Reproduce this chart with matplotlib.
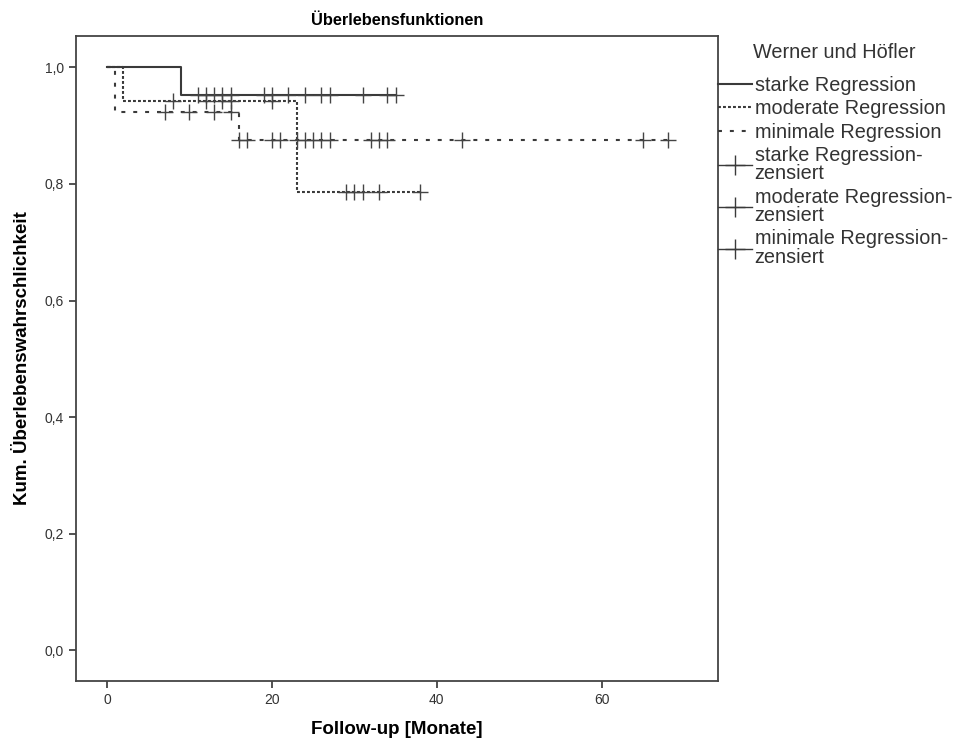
import matplotlib
matplotlib.use("Agg")
import matplotlib.pyplot as plt
from matplotlib.lines import Line2D
from matplotlib.ticker import FuncFormatter
import numpy as np

plt.rcParams["font.family"] = ["Liberation Sans", "DejaVu Sans"]

# Kaplan-Meier step data per group (event times, survival after each step, end of follow-up)
starke_t = [0, 9]
starke_s = [1.0, 0.952]
starke_end = 35
starke_cens = [11, 12, 13, 14, 15, 19, 20, 22, 24, 26, 27, 31, 34, 35]

moderate_t = [0, 2, 23]
moderate_s = [1.0, 0.943, 0.786]
moderate_end = 38
moderate_cens = [8, 12, 14, 15, 20, 29, 30, 31, 33, 38]

minimal_t = [0, 1, 16]
minimal_s = [1.0, 0.923, 0.875]
minimal_end = 68
minimal_cens = [7, 10, 13, 15, 16, 17, 20, 21, 23, 24, 25, 26, 27, 32, 33, 34, 43, 65, 68]

labels = ["starke Regression", "moderate Regression", "minimale Regression"]
cens_labels = ["starke Regression-\nzensiert", "moderate Regression-\nzensiert",
               "minimale Regression-\nzensiert"]

col = "#3a3a3a"
styles = [
    dict(linestyle="-"),
    dict(linestyle=(0, (1.4, 1.0))),
    dict(linestyle=(0, (1.9, 3.8))),
]


def surv_at(t, times, surv):
    idx = np.searchsorted(times, t, side="right") - 1
    return np.array(surv)[idx]


fig = plt.figure(figsize=(9.55, 7.42), dpi=100)
ax = fig.add_axes([76 / 955, 1 - 681 / 742, (718 - 76) / 955, (681 - 36) / 742])

groups = [
    (starke_t, starke_s, starke_end, starke_cens),
    (moderate_t, moderate_s, moderate_end, moderate_cens),
    (minimal_t, minimal_s, minimal_end, minimal_cens),
]

for (t, s, end, cens), st in zip(groups, styles):
    xs = list(t) + [end]
    ys = list(s) + [s[-1]]
    ax.step(xs, ys, where="post", color=col, lw=1.5, **st)
    cy = surv_at(cens, t, s)
    ax.plot(cens, cy, linestyle="none", marker="+", markersize=11,
            markeredgewidth=1.0, color="#444444")

ax.set_xlim(-3.75, 74.1)
ax.set_ylim(-0.053, 1.054)
ax.set_xticks([0, 20, 40, 60])
ax.set_yticks([0, 0.2, 0.4, 0.6, 0.8, 1.0])
ax.yaxis.set_major_formatter(FuncFormatter(lambda v, p: f"{v:.1f}".replace(".", ",")))
ax.tick_params(direction="out", length=5, width=1.2, labelsize=10, colors="#333333")
for sp in ax.spines.values():
    sp.set_color("#444444")
    sp.set_linewidth(1.3)

ax.set_title("Überlebensfunktionen", fontsize=11.8, fontweight="bold", pad=8)
ax.set_xlabel("Follow-up [Monate]", fontsize=13.5, fontweight="bold", labelpad=10)
ax.set_ylabel("Kum. Überlebenswahrschlichkeit", fontsize=13.5, fontweight="bold", labelpad=10)

# legend title drawn separately so the entries start lower, like SPSS
fig.text(753 / 955, 1 - 52 / 742, "Werner und Höfler", fontsize=14.3,
         ha="left", va="center", color="#333333")

handles = [Line2D([], [], color=col, lw=1.5, **st) for st in styles]
handles += [Line2D([], [], color=col, lw=1.0, marker="+", markersize=14,
                   markeredgewidth=1.0) for _ in range(3)]
leg = ax.legend(handles, labels + cens_labels,
                loc="upper left", bbox_to_anchor=(1.0, 1 - (76 - 36) / 645), frameon=False,
                fontsize=14.3, handlelength=1.7, borderpad=0.0,
                handletextpad=0.15, borderaxespad=0.0, labelspacing=0.22)
for txt in leg.get_texts():
    txt.set_color("#333333")
    txt.set_linespacing(0.95)

fig.savefig("out.png", dpi=100)
